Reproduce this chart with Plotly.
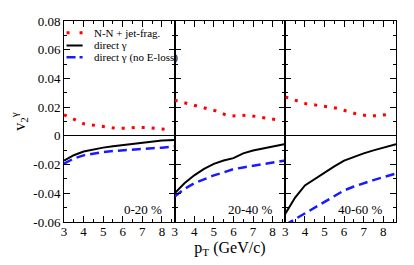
import plotly.graph_objects as go
from plotly.subplots import make_subplots

# ---- data ----
centralities = ["0-20 %", "20-40 %", "40-60 %"]

pt_nn = [3.0, 3.53, 4.05, 4.58, 5.1, 5.63, 6.15, 6.68, 7.2, 7.73, 8.26]
nn_0_20 = [0.0147, 0.0113, 0.0082, 0.0073, 0.0064, 0.0053, 0.0053, 0.0059, 0.0059, 0.0053, 0.0044]
nn_20_40 = [0.0248, 0.0230, 0.0214, 0.0197, 0.0174, 0.0145, 0.0138, 0.0145, 0.0133, 0.0123, 0.0111]
nn_40_60 = [0.0271, 0.0246, 0.0224, 0.0214, 0.0205, 0.0192, 0.0172, 0.0150, 0.0140, 0.0140, 0.0150]

pt_dir = [3.0, 3.5, 4.0, 4.5, 5.0, 5.5, 6.0, 6.5, 7.0, 7.5, 8.0, 8.65]
dir_0_20 = [-0.0172, -0.0135, -0.0109, -0.0094, -0.0082, -0.0073, -0.0064, -0.0055, -0.0046, -0.0039, -0.0032, -0.0028]
dir_20_40 = [-0.0400, -0.0330, -0.0275, -0.0230, -0.0195, -0.0172, -0.0155, -0.0122, -0.0102, -0.0088, -0.0075, -0.0057]
dir_40_60 = [-0.0542, -0.0430, -0.0345, -0.0300, -0.0260, -0.0212, -0.0172, -0.0145, -0.0122, -0.0101, -0.0083, -0.0059]

noel_0_20 = [-0.0194, -0.0158, -0.0136, -0.0123, -0.0113, -0.0106, -0.0100, -0.0095, -0.0091, -0.0086, -0.0082, -0.0073]
noel_20_40 = [-0.0423, -0.0370, -0.0330, -0.0300, -0.0275, -0.0255, -0.0232, -0.0220, -0.0208, -0.0198, -0.0187, -0.0172]
noel_40_60 = [-0.0620, -0.0580, -0.0535, -0.0495, -0.0457, -0.0418, -0.0380, -0.0353, -0.0329, -0.0308, -0.0288, -0.0262]

y_tickvals = [-0.06, -0.04, -0.02, 0, 0.02, 0.04, 0.06, 0.08]
y_ticktext = ["-0.06", "-0.04", "-0.02", "0", "0.02", "0.04", "0.06", "0.08"]
x_tickvals = [3, 4, 5, 6, 7, 8]

names = ["N-N + jet-frag.", "direct γ", "direct γ (no E-loss)"]

FONT = "Liberation Serif"
RED = "#ff0000"
BLUE = "#1a1aff"
RED_DASH = "3px,7px"
BLUE_DASH = "9px,5px"

fig = make_subplots(rows=1, cols=3, shared_yaxes=True, horizontal_spacing=0)

nn_sets = [nn_0_20, nn_20_40, nn_40_60]
dir_sets = [dir_0_20, dir_20_40, dir_40_60]
noel_sets = [noel_0_20, noel_20_40, noel_40_60]

for i in range(3):
    col = i + 1
    fig.add_trace(go.Scatter(x=pt_nn, y=nn_sets[i], mode="lines", name=names[0],
                             line=dict(color=RED, width=3, dash=RED_DASH),
                             showlegend=False), row=1, col=col)
    fig.add_trace(go.Scatter(x=pt_dir, y=dir_sets[i], mode="lines", name=names[1],
                             line=dict(color="black", width=2),
                             showlegend=False), row=1, col=col)
    fig.add_trace(go.Scatter(x=pt_dir, y=noel_sets[i], mode="lines", name=names[2],
                             line=dict(color=BLUE, width=2.5, dash=BLUE_DASH),
                             showlegend=False), row=1, col=col)

axis_common = dict(showline=True, linecolor="black", linewidth=1, mirror="ticks",
                   ticks="inside", tickcolor="black", showgrid=False,
                   tickfont=dict(family=FONT, size=13, color="black"))

for i in range(3):
    fig.update_xaxes(range=[3, 8.65], tickvals=x_tickvals, ticklen=6,
                     ticklabelstandoff=-3, ticklabeloverflow="allow",
                     minor=dict(ticks="inside", dtick=0.5, tick0=3, ticklen=3, tickcolor="black"),
                     zeroline=False, row=1, col=i + 1, **axis_common)
    fig.update_yaxes(range=[-0.06, 0.08], tickvals=y_tickvals, ticktext=y_ticktext, ticklen=6,
                     ticklabeloverflow="allow",
                     minor=dict(ticks="inside", dtick=0.01, tick0=0, ticklen=3, tickcolor="black"),
                     zeroline=True, zerolinecolor="black", zerolinewidth=1,
                     row=1, col=i + 1, **axis_common)

fig.update_xaxes(title=dict(text="p<sub>T</sub> (GeV/c)", font=dict(family=FONT, size=16, color="black"),
                            standoff=0), row=1, col=2)
fig.update_yaxes(title=dict(text="v<sub>2</sub><sup>γ</sup>", font=dict(family=FONT, size=16, color="black"),
                            standoff=8), row=1, col=1)

for i, lab in enumerate(centralities):
    xref = "x" if i == 0 else f"x{i+1}"
    yref = "y" if i == 0 else f"y{i+1}"
    fig.add_annotation(x=[7.05, 6.88, 6.82][i], y=-0.051, xref=xref, yref=yref, text=lab,
                       showarrow=False, font=dict(family=FONT, size=13, color="black"))

# ---- legend (drawn in the first panel, top-left) ----
leg_y = [0.0719, 0.0630, 0.0547]
leg_styles = [dict(color=RED, width=3, dash="3px,10px"),
              dict(color="black", width=2),
              dict(color=BLUE, width=2.5, dash="9px,4px")]
for name, yy, st in zip(names, leg_y, leg_styles):
    fig.add_shape(type="line", xref="x", yref="y", x0=3.13, x1=3.95, y0=yy, y1=yy, line=st)
    fig.add_annotation(x=4.45, y=yy, xref="x", yref="y", text=name, showarrow=False,
                       xanchor="left", yanchor="middle",
                       font=dict(family=FONT, size=11, color="black"))

fig.update_layout(
    width=414, height=265,
    margin=dict(l=56, r=26, t=6, b=51),
    paper_bgcolor="white", plot_bgcolor="white",
    showlegend=False,
)

fig.write_html("out.html")
